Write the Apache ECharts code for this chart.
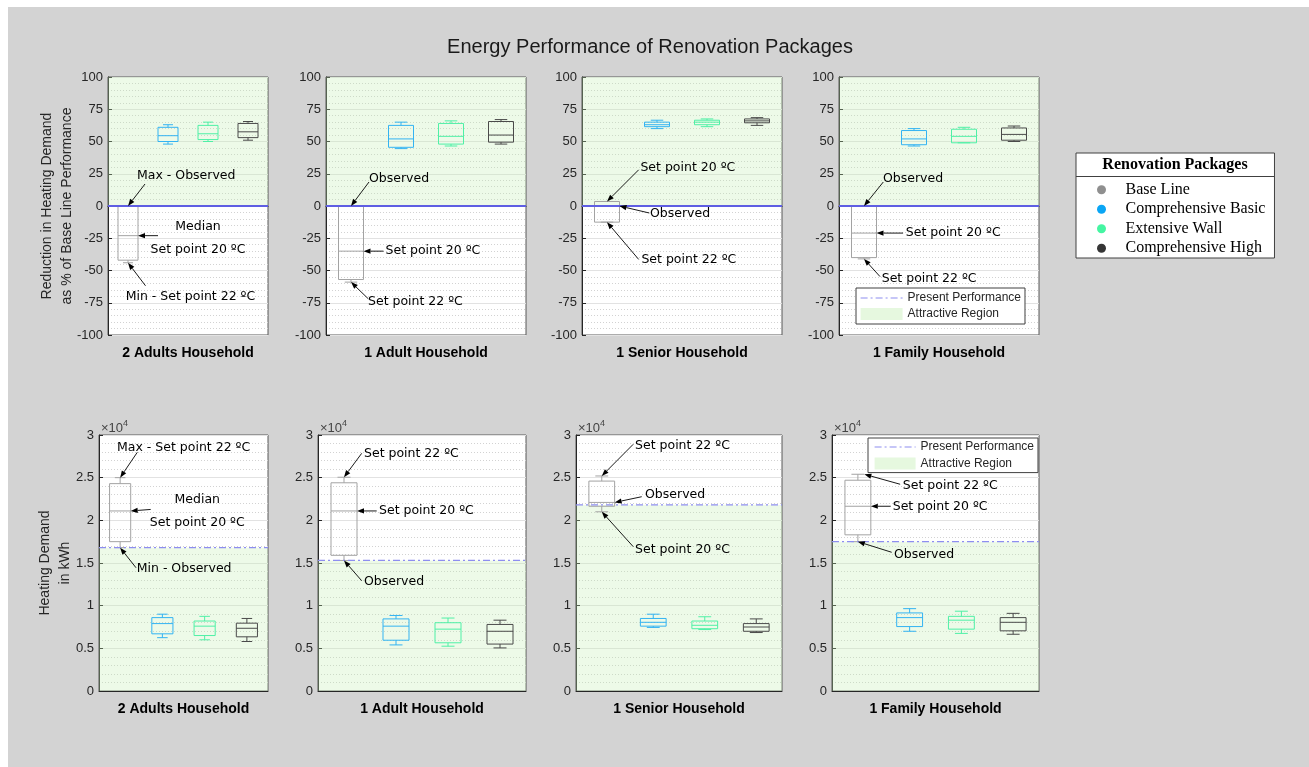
<!DOCTYPE html>
<html>
<head>
<meta charset="utf-8">
<script src="https://cdn.jsdelivr.net/npm/echarts@6/dist/echarts.min.js"></script>
<style>
  html, body { margin: 0; padding: 0; background: #fff; }
  #chart { width: 1309px; height: 767px; }
</style>
</head>
<body>
<div id="chart"></div>
<script>
// ---------------- data ----------------
const households = ['2 Adults Household', '1 Adult Household', '1 Senior Household', '1 Family Household'];
const packages = ['Base Line', 'Comprehensive Basic', 'Extensive Wall', 'Comprehensive High'];

// Reduction in heating demand, % of base line: [min, q1, median, q3, max] per household
const reductionBaseLine  = [[-44, -42, -23, 0, 0], [-59, -57, -35, 0, 0], [-12.5, -12.5, 0, 3.5, 3.5], [-41, -40, -21, 0, 0]];
const reductionCompBasic = [[48, 50, 54.5, 61, 63], [44.5, 45.5, 52, 62.5, 65], [60, 61.5, 63, 65, 66.5], [46.5, 47.5, 52, 58.5, 60]];
const reductionExtWall   = [[50, 51.5, 56, 62.5, 65], [46.5, 48, 54, 64, 66], [61.5, 63, 65, 66.5, 67.5], [49, 49, 54, 59.5, 61]];
const reductionCompHigh  = [[51, 53, 57.5, 64, 65.5], [48, 49.5, 55, 65.5, 67], [62.5, 64.5, 66, 67.5, 68.5], [50, 51, 55.5, 60.5, 62]];

// Heating demand in kWh: [min, q1, median, q3, max] per household
const demandBaseLine  = [[16800, 17500, 21100, 24300, 25000], [15300, 15900, 21100, 24400, 25050], [21000, 21650, 22100, 24600, 25200], [17500, 18300, 21650, 24700, 25400]];
const demandCompBasic = [[6250, 6700, 7900, 8600, 9000], [5400, 5950, 7600, 8450, 8850], [7450, 7600, 8050, 8500, 9000], [7000, 7550, 8600, 9150, 9650]];
const demandExtWall   = [[6000, 6500, 7600, 8200, 8750], [5250, 5650, 7250, 8000, 8550], [7200, 7300, 7700, 8200, 8700], [6750, 7250, 8300, 8750, 9350]];
const demandCompHigh  = [[5800, 6350, 7350, 7950, 8500], [5050, 5500, 7000, 7800, 8300], [6850, 7000, 7500, 7900, 8450], [6650, 7050, 8050, 8600, 9100]];

// Present performance (observed demand) per household
const presentReduction = [0, 0, 0, 0];
const presentDemand = [16800, 15300, 21800, 17500];
const attractiveReductionTop = [100, 100, 100, 100];

// Axis ticks
const reductionTicks = { min: -100, max: 100, step: 25 };
const demandTicks = { min: 0, max: 30000, step: 5000 };

// Callouts on the base line boxes: text, x position, and which statistic it points at
// (stat: 0 = min, 2 = median, 4 = max)
const reductionNotes = [
  [{ text: 'Max - Observed', x: 1, stat: 4 }, { text: 'Median\nSet point 20 ºC', x: 1.25, stat: 2 }, { text: 'Min - Set point 22 ºC', x: 1, stat: 0 }],
  [{ text: 'Observed', x: 1, stat: 4 }, { text: 'Set point 20 ºC', x: 1.25, stat: 2 }, { text: 'Set point 22 ºC', x: 1, stat: 0 }],
  [{ text: 'Set point 20 ºC', x: 1, stat: 4 }, { text: 'Observed', x: 1.25, stat: 2 }, { text: 'Set point 22 ºC', x: 1, stat: 0 }],
  [{ text: 'Observed', x: 1, stat: 4 }, { text: 'Set point 20 ºC', x: 1.25, stat: 2 }, { text: 'Set point 22 ºC', x: 1, stat: 0 }]
];
const demandNotes = [
  [{ text: 'Max - Set point 22 ºC', x: 1, stat: 4 }, { text: 'Median\nSet point 20 ºC', x: 1.25, stat: 2 }, { text: 'Min - Observed', x: 1, stat: 0 }],
  [{ text: 'Set point 22 ºC', x: 1, stat: 4 }, { text: 'Set point 20 ºC', x: 1.25, stat: 2 }, { text: 'Observed', x: 1, stat: 0 }],
  [{ text: 'Set point 22 ºC', x: 1, stat: 4 }, { text: 'Observed', x: 1.25, stat: 2 }, { text: 'Set point 20 ºC', x: 1, stat: 0 }],
  [{ text: 'Set point 22 ºC', x: 1.125, stat: 4 }, { text: 'Set point 20 ºC', x: 1.25, stat: 2 }, { text: 'Observed', x: 1, stat: 0 }]
];

// ---------------- layout & style ----------------
const GRIDS = [
  { left: 108, top: 77, width: 160, height: 258 },
  { left: 326, top: 77, width: 200, height: 258 },
  { left: 582, top: 77, width: 200, height: 258 },
  { left: 839, top: 77, width: 200, height: 258 },
  { left: 99, top: 435, width: 169, height: 256 },
  { left: 318, top: 435, width: 208, height: 256 },
  { left: 576, top: 435, width: 206, height: 256 },
  { left: 832, top: 435, width: 207, height: 256 }
];

// Arrow tail and label offsets (px) from the arrow head, per panel and callout
const NOTE_LAYOUT = [
  [{ tail: [17, -22], label: [9, -30] }, { tail: [20, 0], label: [60, 2.5], align: 'center', lh: 23.5 }, { tail: [17.5, 23], label: [-2.3, 33.5] }],
  [{ tail: [18, -24], label: [18, -27.5] }, { tail: [20, 0], label: [22, 0] }, { tail: [17.3, 16.7], label: [17, 19.7] }],
  [{ tail: [31.7, -31.7], label: [33.4, -33.4] }, { tail: [29.8, 7], label: [30.5, 7.6] }, { tail: [31.7, 37.3], label: [34.4, 38] }],
  [{ tail: [19.3, -24], label: [19, -27.4] }, { tail: [26.6, 0], label: [29.3, 0] }, { tail: [16, 17.7], label: [17.7, 20.3] }],
  [{ tail: [17.2, -25.4], label: [-3.1, -30.4] }, { tail: [20, -1.5], label: [66.6, 0.3], align: 'center', lh: 22.7 }, { tail: [15.9, 20.1], label: [16.6, 20.7] }],
  [{ tail: [17.7, -23.9], label: [20, -23.2] }, { tail: [19.7, 0], label: [22, 0] }, { tail: [17.7, 20.3], label: [20, 21.3] }],
  [{ tail: [31.5, -31.7], label: [33.3, -30.3] }, { tail: [27.1, -5.7], label: [30.4, -7.4] }, { tail: [31.5, 34.9], label: [33.3, 38.2] }],
  [{ tail: [35.8, 10], label: [38.5, 11.7] }, { tail: [19.9, 0], label: [21.9, 0] }, { tail: [33.8, 10.6], label: [36.1, 13.3] }]
];

const BOX_COLORS = ['#a3a3a3', '#33b3f2', '#4ff0a6', '#4a4a4a'];
const LEGEND_DOT_COLORS = ['#8f8f8f', '#0aa6f5', '#45f5a2', '#363636'];
const AXIS_COLOR = '#262626';
const SANS = 'Liberation Sans';
const NOTE_FONT = '12.5px "DejaVu Sans"';
const GREEN_FILL = 'rgba(196, 240, 178, 0.3)';

const reductionStats = [reductionBaseLine, reductionCompBasic, reductionExtWall, reductionCompHigh];
const demandStats = [demandBaseLine, demandCompBasic, demandExtWall, demandCompHigh];

// ---------------- builders ----------------
function boxRenderer(color) {
  return function (params, api) {
    const x = api.value(0);
    const lo = api.value(1), q1 = api.value(2), md = api.value(3), q3 = api.value(4), hi = api.value(5);
    const half = api.size([0.5, 0])[0] / 2;
    const cx = api.coord([x, md])[0];
    const y = v => api.coord([x, v])[1];
    const cap = half / 2;
    const st = { stroke: color, lineWidth: 1, fill: null };
    return {
      type: 'group',
      children: [
        { type: 'line', shape: { x1: cx, y1: y(hi), x2: cx, y2: y(q3) }, style: st },
        { type: 'line', shape: { x1: cx, y1: y(q1), x2: cx, y2: y(lo) }, style: st },
        { type: 'line', shape: { x1: cx - cap, y1: y(hi), x2: cx + cap, y2: y(hi) }, style: st },
        { type: 'line', shape: { x1: cx - cap, y1: y(lo), x2: cx + cap, y2: y(lo) }, style: st },
        { type: 'rect', shape: { x: cx - half, y: y(q3), width: 2 * half, height: y(q1) - y(q3) }, style: st },
        { type: 'line', shape: { x1: cx - half, y1: y(md), x2: cx + half, y2: y(md) }, style: st }
      ]
    };
  };
}

function noteRenderer(notes, layout) {
  return function (params, api) {
    const note = notes[params.dataIndex];
    const lay = layout[params.dataIndex];
    const head = api.coord([api.value(0), api.value(1)]);
    const hx = head[0], hy = head[1];
    const tx = hx + lay.tail[0], ty = hy + lay.tail[1];
    const ang = Math.atan2(hy - ty, hx - tx);
    const L = 7, W = 2.6;
    const bx = hx - L * Math.cos(ang), by = hy - L * Math.sin(ang);
    const px = -Math.sin(ang) * W, py = Math.cos(ang) * W;
    return {
      type: 'group',
      children: [
        { type: 'line', shape: { x1: tx, y1: ty, x2: bx, y2: by }, style: { stroke: '#000', lineWidth: 0.9 } },
        { type: 'polygon', shape: { points: [[hx, hy], [bx + px, by + py], [bx - px, by - py]] }, style: { fill: '#000' } },
        {
          type: 'text', x: hx + lay.label[0], y: hy + lay.label[1],
          style: {
            text: note.text, fill: '#000', font: NOTE_FONT,
            align: lay.align || 'left', verticalAlign: 'middle', lineHeight: lay.lh || 16
          }
        }
      ]
    };
  };
}

const grids = GRIDS.map(g => Object.assign({
  show: true, backgroundColor: '#fff', borderColor: '#595959', borderWidth: 1
}, g));

const xAxes = GRIDS.map((g, p) => ({
  type: 'value', gridIndex: p, min: 0.5, max: 4.5,
  axisLabel: { show: false }, axisTick: { show: false }, splitLine: { show: false },
  axisLine: { show: true, lineStyle: { color: AXIS_COLOR } },
  name: households[p % 4], nameLocation: 'middle', nameGap: 11,
  nameTextStyle: { fontFamily: SANS, fontWeight: 'bold', fontSize: 14, color: '#000', verticalAlign: 'top' }
}));

const yAxes = GRIDS.map((g, p) => {
  const top = p < 4;
  const t = top ? reductionTicks : demandTicks;
  const ax = {
    type: 'value', gridIndex: p, position: 'left',
    min: t.min, max: t.max, interval: t.step,
    axisLine: { show: true, lineStyle: { color: AXIS_COLOR } },
    axisTick: { show: true, inside: true, length: 4, lineStyle: { color: AXIS_COLOR } },
    minorTick: { show: false, splitNumber: 5 },
    axisLabel: {
      fontFamily: SANS, fontSize: 13, color: AXIS_COLOR, margin: 5,
      formatter: top ? (v => String(v)) : (v => String(v / 10000))
    },
    splitLine: { show: true, lineStyle: { color: '#e2e2e2', width: 1 } },
    minorSplitLine: { show: true, lineStyle: { color: '#d2d2d2', width: 1, type: [1, 2] } }
  };
  if (top && p === 0) {
    ax.name = 'Reduction in Heating Demand\nas % of Base Line Performance';
    ax.nameLocation = 'middle';
    ax.nameRotate = 90;
    ax.nameGap = 31;
    ax.nameMoveOverlap = false;
    ax.nameTextStyle = { fontFamily: SANS, fontSize: 14, lineHeight: 20, color: AXIS_COLOR };
  }
  if (!top) {
    ax.name = '{a|×10}{b|4}';
    ax.nameLocation = 'end';
    ax.nameGap = 0;
    ax.nameMoveOverlap = false;
    ax.nameTextStyle = {
      align: 'left', verticalAlign: 'bottom', padding: [0, 0, 0, 2],
      rich: {
        a: { fontFamily: SANS, fontSize: 13, color: '#444', lineHeight: 16, verticalAlign: 'bottom' },
        b: { fontFamily: SANS, fontSize: 9, color: '#444', lineHeight: 16, verticalAlign: 'top', padding: [0, 0, 6, 0] }
      }
    };
  }
  return ax;
});
// second left axis on the lower-left panel carrying the axis title
yAxes.push({
  type: 'value', gridIndex: 4, position: 'left', min: demandTicks.min, max: demandTicks.max,
  axisLine: { show: false }, axisTick: { show: false }, axisLabel: { show: false }, splitLine: { show: false },
  name: 'Heating Demand\nin kWh', nameLocation: 'middle', nameRotate: 90, nameGap: 24, nameMoveOverlap: false,
  nameTextStyle: { fontFamily: SANS, fontSize: 14, lineHeight: 20, color: AXIS_COLOR }
});

const series = [];
GRIDS.forEach((g, p) => {
  const top = p < 4;
  const h = p % 4;
  const stats = top ? reductionStats : demandStats;
  const present = top ? presentReduction[h] : presentDemand[h];
  const regionTop = top ? attractiveReductionTop[h] : presentDemand[h];

  series.push({
    name: 'Attractive Region', type: 'line', xAxisIndex: p, yAxisIndex: p,
    data: [[0.5, regionTop], [4.5, regionTop]],
    symbol: 'none', silent: true, z: 1,
    lineStyle: { width: 0, color: '#dff5d6' },
    itemStyle: { color: '#e6f8df' },
    areaStyle: { color: GREEN_FILL, opacity: 1 }
  });

  packages.forEach((pkg, k) => {
    series.push({
      name: pkg, type: 'custom', xAxisIndex: p, yAxisIndex: p, z: 3, silent: true,
      itemStyle: { color: BOX_COLORS[k] },
      encode: { x: 0, y: [1, 2, 3, 4, 5] },
      data: [[k + 1].concat(stats[k][h])],
      renderItem: boxRenderer(BOX_COLORS[k])
    });
  });

  series.push({
    name: 'Present Performance', type: 'line', xAxisIndex: p, yAxisIndex: p,
    data: [[0.5, present], [4.5, present]],
    symbol: 'none', silent: true, z: 4,
    lineStyle: top ? { color: '#5f5fe3', width: 2, type: 'solid' }
                   : { color: '#8e8ef0', width: 1.2, type: [7, 3, 2, 3] },
    itemStyle: { color: '#8e8ef0' }
  });

  const notes = top ? reductionNotes[h] : demandNotes[h];
  const base = top ? reductionBaseLine[h] : demandBaseLine[h];
  series.push({
    type: 'custom', xAxisIndex: p, yAxisIndex: p, z: 6, silent: true,
    encode: { x: 0, y: 1 },
    data: notes.map(n => [n.x, base[n.stat]]),
    renderItem: noteRenderer(notes, NOTE_LAYOUT[p])
  });
});

const innerLegend = (left, top, padding, iconW, gap) => ({
  orient: 'vertical', left: left, top: top, padding: padding,
  backgroundColor: '#fff', borderColor: '#404040', borderWidth: 1, borderRadius: 0,
  itemWidth: iconW, itemHeight: 12, itemGap: gap, selectedMode: false,
  textStyle: { fontFamily: SANS, fontSize: 12, color: AXIS_COLOR, lineHeight: 14 },
  data: [
    {
      name: 'Present Performance',
      lineStyle: { color: '#8e8ef0', width: 1.2, type: [7, 3, 2, 3] },
      itemStyle: { opacity: 0 }
    },
    { name: 'Attractive Region', icon: 'rect', itemStyle: { color: '#e6f8df', borderWidth: 0 } }
  ]
});

const option = {
  animation: false,
  backgroundColor: '#fff',
  title: {
    text: 'Energy Performance of Renovation Packages',
    left: 645, top: 32, textAlign: 'center',
    textStyle: { fontFamily: SANS, fontSize: 20, fontWeight: 'normal', color: '#1a1a1a' }
  },
  graphic: [
    { type: 'rect', z: -100, shape: { x: 8, y: 7, width: 1301, height: 760 }, style: { fill: '#d3d3d3' }, silent: true },
    { type: 'text', z: 100, x: 1175, y: 165, style: { text: 'Renovation Packages', font: 'bold 16px "Liberation Serif"', fill: '#000', align: 'center', verticalAlign: 'middle' }, silent: true },
    { type: 'line', z: 100, shape: { x1: 1076, y1: 176.5, x2: 1274, y2: 176.5 }, style: { stroke: '#404040', lineWidth: 1 }, silent: true }
  ],
  legend: [
    {
      orient: 'vertical', left: 1076, top: 153, padding: [27, 9, 0, 21],
      backgroundColor: '#fff', borderColor: '#404040', borderWidth: 1,
      icon: 'circle', itemWidth: 28, itemHeight: 9, itemGap: 0,
      textStyle: { fontFamily: 'Liberation Serif', fontSize: 16, color: '#000', lineHeight: 19.5, padding: [0, 0, 0, 5] },
      data: packages.map((p, k) => ({ name: p, itemStyle: { color: LEGEND_DOT_COLORS[k] } }))
    },
    innerLegend(856, 288, [3, 4, 3, 4], 42, 2),
    innerLegend(868, 438, [2, 4, 2, 6], 41, 2.6)
  ],
  grid: grids,
  xAxis: xAxes,
  yAxis: yAxes,
  series: series
};

const chart = echarts.init(document.getElementById('chart'), null, { renderer: 'canvas' });
chart.setOption(option);
</script>
</body>
</html>
